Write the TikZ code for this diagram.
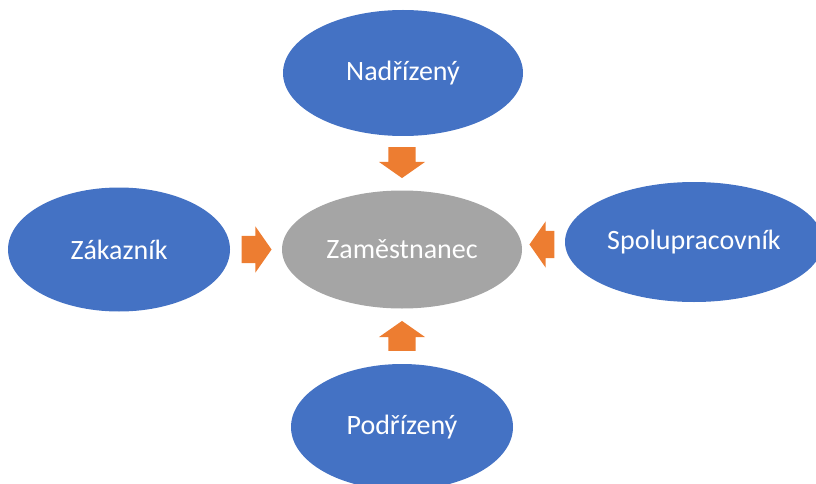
\documentclass[tikz,border=0pt]{standalone}
\usepackage{fontspec}
\setmainfont{Carlito}
\usepackage{color}
\definecolor{myblue}{RGB}{68,114,196}
\definecolor{mygray}{RGB}{165,165,165}
\definecolor{myorange}{RGB}{237,125,49}
\definecolor{mywhite}{RGB}{255,255,255}
\usepackage{tikz}
\usetikzlibrary{shapes.geometric,shapes.arrows,positioning,calc}
\tikzstyle{bubble}=[ellipse,fill=myblue,text=mywhite,inner sep=0pt,font=\fontsize{28}{34}\selectfont]

\begin{document}
\begin{tikzpicture}[
  x=1pt,
  y=-1pt,
  pointer/.style={
    single arrow,
    fill=myorange,
    draw=none,
    inner xsep=0pt,
    inner ysep=13.5pt,
    single arrow head extend=9.5pt,
    single arrow tip angle=110,
    minimum height=#1
    }
]
\useasboundingbox (0,0) rectangle (816,484);

\node [bubble, fill=mygray, minimum width=240pt, minimum height=118pt] (zam) at (402,249.5) {Zaměstnanec};

\node [bubble, minimum width=240pt, minimum height=126pt] (nad) at (403,73) {Nadřízený};
\node [bubble, minimum width=222pt, minimum height=124pt] (zak) at (119,249.5) {Zákazník};
\node [bubble, minimum width=258pt, minimum height=120pt] (spo) at (694,242) {Spolupracovník};
\node [bubble, minimum width=222pt, minimum height=126pt] (pod) at (402,427) {Podřízený};

\node [pointer=31pt, rotate=-90, anchor=tip] (arrnad) at ([yshift=12pt]zam.north) {};
\node [pointer=30pt, anchor=tip] (arrzak) at ([xshift=-10pt]zam.west) {};
\node [pointer=25pt, rotate=180, anchor=tip] (arrspo) at ([xshift=7pt,yshift=5pt]zam.east) {};
\node [pointer=30pt, rotate=90, anchor=tip] (arrpod) at ([yshift=-12pt]zam.south) {};

\end{tikzpicture}
\end{document}
